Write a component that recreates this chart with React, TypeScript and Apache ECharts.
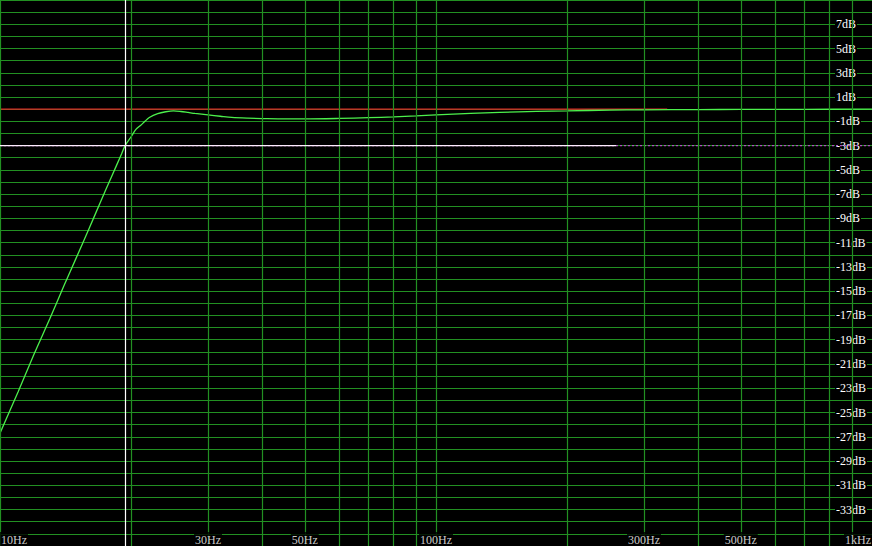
import { useEffect, useRef } from 'react';
import * as echarts from 'echarts';

// Frequency response (Hz, dB)
const responseFreqs = [
  10, 11, 12, 13, 14, 15, 16, 17, 18, 19, 19.35, 20, 20.5, 21, 21.5, 22, 23, 24, 25, 26, 27, 28,
  30, 32, 34, 37, 40, 45, 50, 60, 70, 80, 90, 100, 120, 140, 170, 200, 250, 300, 400, 500, 700, 1000,
];
const responseDb = [
  -26.7, -23.3, -20.1, -17.3, -14.6, -12.15, -9.85, -7.65, -5.6, -3.7, -3.02, -2.25, -1.66, -1.34,
  -1.0, -0.68, -0.36, -0.21, -0.14, -0.19, -0.27, -0.35, -0.47, -0.58, -0.68, -0.74, -0.77, -0.8,
  -0.8, -0.76, -0.7, -0.63, -0.55, -0.47, -0.35, -0.26, -0.18, -0.14, -0.08, -0.05, -0.03, -0.02,
  -0.01, 0,
];

const yLabelValues = [7, 5, 3, 1, -1, -3, -5, -7, -9, -11, -13, -15, -17, -19, -21, -23, -25, -27, -29, -31, -33];
const xLabelFreqs = [10, 30, 50, 100, 300, 500, 1000];
const xLabelTexts = ['10Hz', '30Hz', '50Hz', '100Hz', '300Hz', '500Hz', '1kHz'];
const gridFreqs = [10, 20, 30, 40, 50, 60, 70, 80, 90, 100, 200, 300, 400, 500, 600, 700, 800, 900];

const zeroRefFreqs = [10, 339];
const zeroRefDb = [0, 0];
const minus3RefFreqs = [10, 259];
const minus3RefDb = [-3, -3];
const minus3FullFreqs = [10, 1000];
const minus3FullDb = [-3, -3];
const cutoffFreq = 19.35;

const Y_MIN = -36;
const Y_MAX = 9;

const GRID = '#229022';
const FONT = "'Liberation Serif', 'Times New Roman', serif";

export default function App() {
  const ref = useRef<HTMLDivElement>(null);

  useEffect(() => {
    document.body.style.margin = '0';
    document.body.style.background = '#000';
    const chart = echarts.init(ref.current!, null, { renderer: 'svg' });
    const zip = (xs: number[], ys: number[]) => xs.map((x, i) => [x, ys[i]]);

    chart.setOption({
      animation: false,
      backgroundColor: '#000',
      grid: { left: 0, right: 0, top: 0, bottom: 0, containLabel: false },
      xAxis: {
        type: 'log',
        logBase: 10,
        min: 10,
        max: 1000,
        axisLine: { show: false },
        axisTick: { show: false },
        axisLabel: { show: false },
        splitLine: { show: false },
      },
      yAxis: {
        type: 'value',
        min: Y_MIN,
        max: Y_MAX,
        interval: 1,
        position: 'left',
        axisLine: { show: false },
        axisTick: { show: false },
        splitLine: { show: true, lineStyle: { color: GRID, width: 1 } },
        axisLabel: {
          inside: true,
          margin: 835,
          align: 'left',
          customValues: yLabelValues,
          formatter: (v: number) => `${v}dB`,
          color: '#ffffff',
          fontFamily: FONT,
          fontSize: 12,
          lineHeight: 13,
          backgroundColor: '#000',
          padding: [0, 1, 2, 1],
        },
      },
      series: [
        {
          type: 'line',
          data: [[10, Y_MIN]],
          symbol: 'none',
          silent: true,
          markLine: {
            silent: true,
            symbol: ['none', 'none'],
            label: { show: false },
            lineStyle: { color: GRID, type: 'solid', width: 1.2, opacity: 1 },
            data: gridFreqs.map((f) => ({ xAxis: f })),
          },
          z: 1,
        },
        {
          type: 'line',
          data: zip(minus3FullFreqs, minus3FullDb),
          symbol: 'none',
          silent: true,
          lineStyle: { color: '#b050c0', width: 1.2, type: [2, 2] },
          z: 2,
        },
        {
          type: 'line',
          data: zip(zeroRefFreqs, zeroRefDb),
          symbol: 'none',
          silent: true,
          lineStyle: { color: '#e02828', width: 1.3 },
          z: 3,
        },
        {
          type: 'line',
          data: zip(responseFreqs, responseDb),
          symbol: 'none',
          silent: true,
          smooth: 0.3,
          lineStyle: { color: '#4cf04c', width: 1.3 },
          z: 4,
        },
        {
          type: 'line',
          data: zip(minus3RefFreqs, minus3RefDb),
          symbol: 'none',
          silent: true,
          lineStyle: { color: '#ffeeff', width: 1.3 },
          z: 5,
          markLine: {
            silent: true,
            symbol: ['none', 'none'],
            label: { show: false },
            lineStyle: { color: '#ffffff', type: 'solid', width: 1.2 },
            data: [{ xAxis: cutoffFreq }],
          },
        },
        {
          type: 'scatter',
          symbolSize: 0,
          silent: true,
          clip: false,
          z: 6,
          data: xLabelFreqs.map((f, i) => ({
            value: [f, Y_MIN],
            label: {
              show: true,
              formatter: xLabelTexts[i],
              position: 'top',
              distance: 0,
              align: i === 0 ? 'left' : i === xLabelFreqs.length - 1 ? 'right' : 'center',
              color: '#ffffff',
              fontFamily: FONT,
              fontSize: 12,
              lineHeight: 13,
              backgroundColor: '#000',
              padding: [1, 1, 0, 1],
            },
          })),
        },
      ],
    });
    return () => chart.dispose();
  }, []);

  return (
    <div
      ref={ref}
      style={{ position: 'fixed', left: 0, top: 0, width: 872, height: 546, background: '#000' }}
    />
  );
}
